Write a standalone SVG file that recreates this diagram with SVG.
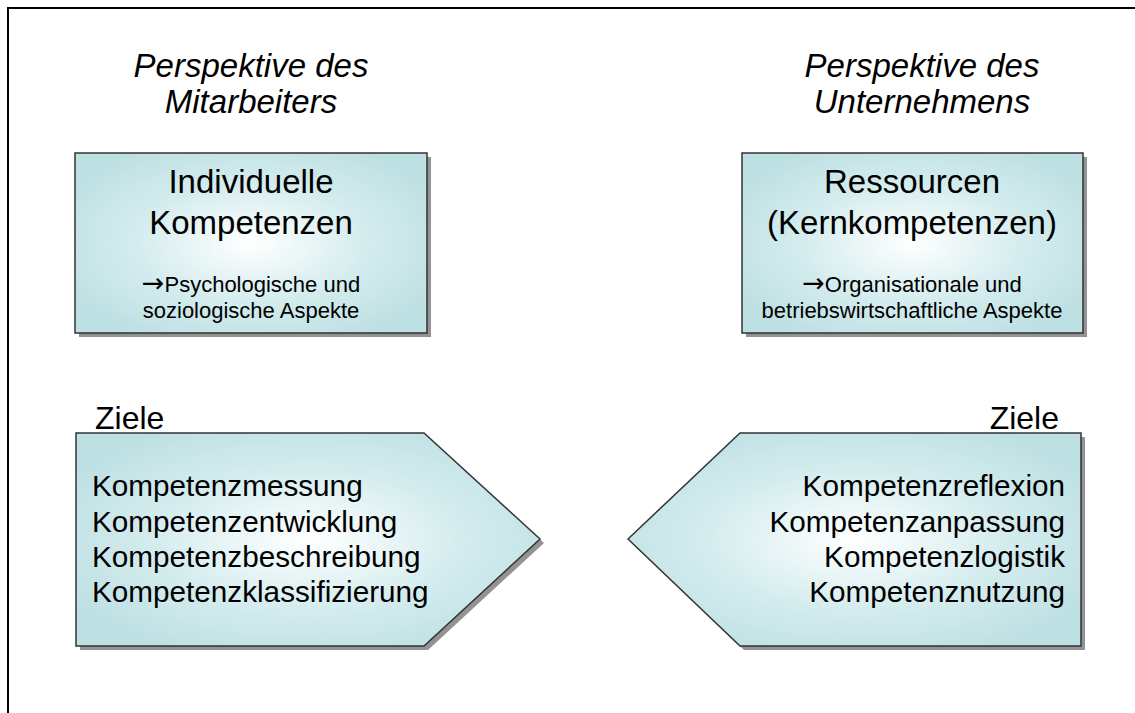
<svg xmlns="http://www.w3.org/2000/svg" width="1135" height="713" viewBox="0 0 1135 713">
  <style>
    text { font-family: "Liberation Sans", Arial, Helvetica, sans-serif; fill: #000; }
    .head { font-size: 33px; font-style: italic; text-anchor: middle; }
    .title { font-size: 33px; text-anchor: middle; }
    .sub { font-size: 22px; text-anchor: middle; }
    .arr { font-family: "DejaVu Sans", sans-serif; font-size: 27px; }
    .goal { font-size: 29.7px; }
    .tag { font-size: 32px; }
    .shape { fill: url(#glow); stroke: #333; stroke-width: 1.5; }
    .shadow { fill: #6f6f6f; opacity: 0.75; }
  </style>
  <defs>
    <radialGradient id="glow" cx="0.5" cy="0.5" r="0.6">
      <stop offset="0" stop-color="#ffffff"/>
      <stop offset="0.55" stop-color="#d4ecee"/>
      <stop offset="1" stop-color="#bde0e3"/>
    </radialGradient>
  </defs>

  <rect width="1135" height="713" fill="#fff"/>
  <!-- frame: top and left edges -->
  <path d="M8 713 V8 H1135" fill="none" stroke="#000" stroke-width="2"/>

  <!-- headings -->
  <g id="head-left">
    <text class="head" x="251" y="77">Perspektive des</text>
    <text class="head" x="251" y="113">Mitarbeiters</text>
  </g>
  <g id="head-right">
    <text class="head" x="922" y="77">Perspektive des</text>
    <text class="head" x="922" y="113">Unternehmens</text>
  </g>

  <!-- competence boxes -->
  <g id="box-individual">
    <rect class="shadow" x="79" y="157" width="352" height="180"/>
    <rect class="shape" x="75" y="153" width="352" height="180"/>
    <text class="title" x="251" y="193">Individuelle</text>
    <text class="title" x="251" y="234">Kompetenzen</text>
    <text class="sub" x="251" y="292"><tspan class="arr">→</tspan>Psychologische und</text>
    <text class="sub" x="251" y="318">soziologische Aspekte</text>
  </g>
  <g id="box-resources">
    <rect class="shadow" x="746" y="157" width="341" height="180"/>
    <rect class="shape" x="742" y="153" width="341" height="180"/>
    <text class="title" x="912" y="193">Ressourcen</text>
    <text class="title" x="912" y="234">(Kernkompetenzen)</text>
    <text class="sub" x="912" y="292"><tspan class="arr">→</tspan>Organisationale und</text>
    <text class="sub" x="912" y="318">betriebswirtschaftliche Aspekte</text>
  </g>

  <!-- goal arrows -->
  <g id="goals-left">
    <text class="tag" x="95" y="429">Ziele</text>
    <polygon class="shadow" points="80,437 428,437 544,543 428,650 80,650"/>
    <polygon class="shape" points="76,433 424,433 540,539 424,646 76,646"/>
    <g class="goal">
      <text x="92" y="496">Kompetenzmessung</text>
      <text x="92" y="532">Kompetenzentwicklung</text>
      <text x="92" y="567">Kompetenzbeschreibung</text>
      <text x="92" y="602">Kompetenzklassifizierung</text>
    </g>
  </g>
  <g id="goals-right">
    <text class="tag" x="1059" y="429" text-anchor="end">Ziele</text>
    <polygon class="shadow" points="632,543 744,437 1085,437 1085,650 744,650"/>
    <polygon class="shape" points="628,539 740,433 1081,433 1081,646 740,646"/>
    <g class="goal" text-anchor="end">
      <text x="1065" y="496">Kompetenzreflexion</text>
      <text x="1065" y="532">Kompetenzanpassung</text>
      <text x="1065" y="567">Kompetenzlogistik</text>
      <text x="1065" y="602">Kompetenznutzung</text>
    </g>
  </g>
</svg>
